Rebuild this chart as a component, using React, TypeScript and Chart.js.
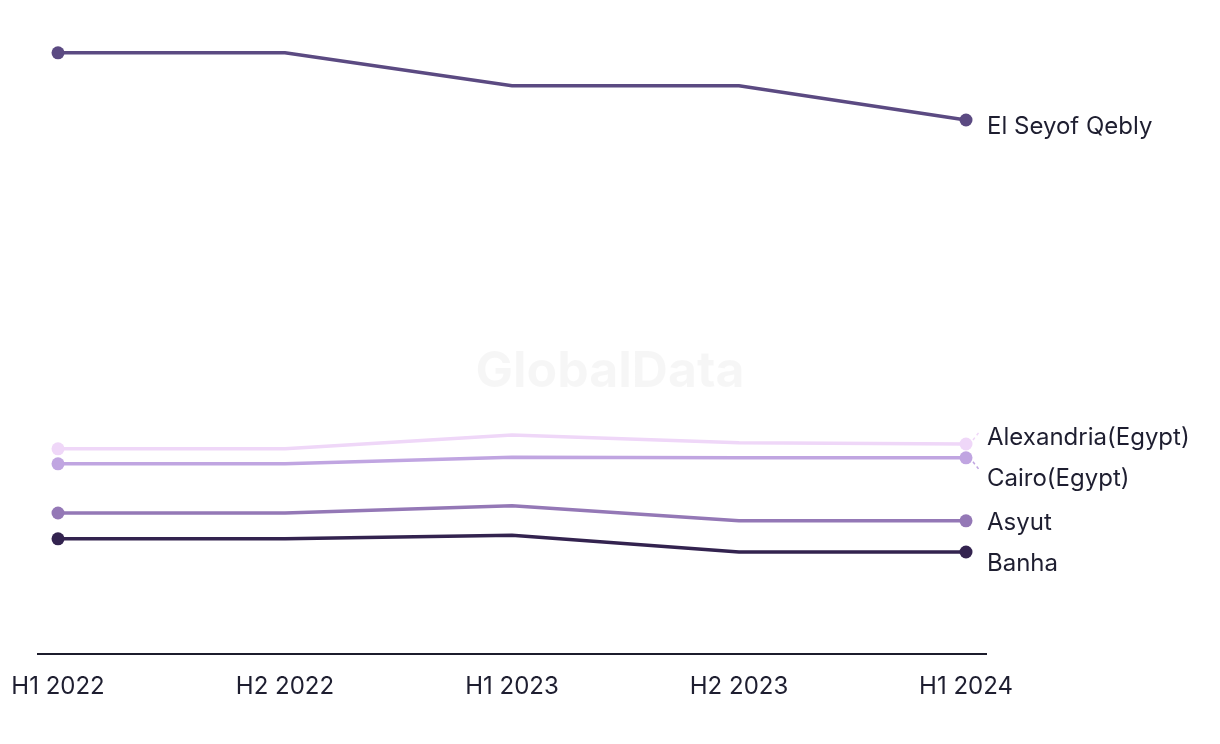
import React, { useEffect, useRef } from "react";
import { Chart, registerables } from "chart.js";

Chart.register(...registerables);

const categories = ["H1 2022", "H2 2022", "H1 2023", "H2 2023", "H1 2024"];
const seriesNames = ["El Seyof Qebly", "Alexandria(Egypt)", "Cairo(Egypt)", "Asyut", "Banha"];
const elSeyofQebly = [100.2, 100.2, 94.7, 94.7, 89.0];
const alexandria = [34.2, 34.2, 36.5, 35.2, 35.0];
const cairo = [31.7, 31.7, 32.8, 32.7, 32.7];
const asyut = [23.5, 23.5, 24.7, 22.2, 22.2];
const banha = [19.2, 19.2, 19.8, 17.0, 17.0];
const seriesColors = ["#5b4a82", "#efd7f8", "#c0a5e1", "#9478b6", "#33234f"];

const FONT = "Inter, 'Noto Sans', sans-serif";
const TEXT_COLOR = "#1e1e30";

const labelPlugin = {
  id: "endLabels",
  beforeDatasetsDraw(chart: any) {
    const { ctx } = chart;
    ctx.save();
    ctx.font = `bold 50px ${FONT}`;
    ctx.fillStyle = "rgba(0,0,0,0.035)";
    ctx.textAlign = "center";
    ctx.textBaseline = "middle";
    ctx.fillText("GlobalData", 610, 372);
    ctx.restore();
  },
  afterDatasetsDraw(chart: any) {
    const { ctx } = chart;
    const items = chart.data.datasets.map((ds: any, i: number) => {
      const meta = chart.getDatasetMeta(i);
      const pt = meta.data[meta.data.length - 1];
      return { i, x: pt.x, py: pt.y, y: pt.y + 7, label: ds.label, color: ds.borderColor };
    });
    items.sort((a: any, b: any) => a.y - b.y);
    const gap = 41;
    let clusters = items.map((it: any) => ({ members: [it], center: it.y }));
    let changed = true;
    while (changed) {
      changed = false;
      for (let k = 0; k < clusters.length - 1; k++) {
        const a = clusters[k];
        const b = clusters[k + 1];
        const aBottom = a.center + ((a.members.length - 1) * gap) / 2;
        const bTop = b.center - ((b.members.length - 1) * gap) / 2;
        if (bTop - aBottom < gap) {
          const members = [...a.members, ...b.members];
          const center = members.reduce((s: number, m: any) => s + m.y, 0) / members.length;
          clusters.splice(k, 2, { members, center });
          changed = true;
          break;
        }
      }
    }
    clusters.forEach((c: any) => {
      const n = c.members.length;
      c.members.forEach((m: any, j: number) => {
        m.ly = c.center + (j - (n - 1) / 2) * gap;
      });
    });
    ctx.save();
    items.forEach((it: any) => {
      const moved = it.ly - it.y;
      if (Math.abs(moved) > 9) {
        const dir = Math.sign(it.ly - it.py);
        ctx.beginPath();
        ctx.setLineDash([3, 3]);
        ctx.lineWidth = 1.5;
        ctx.strokeStyle = it.color;
        ctx.moveTo(it.x + 7, it.py + dir * 4);
        ctx.lineTo(it.x + 14, it.py + dir * 13);
        ctx.stroke();
        ctx.setLineDash([]);
      }
      ctx.font = `24px ${FONT}`;
      ctx.fillStyle = TEXT_COLOR;
      ctx.textAlign = "left";
      ctx.textBaseline = "middle";
      ctx.fillText(it.label, it.x + 21, it.ly);
    });
    ctx.restore();
  },
};

export default function App() {
  const canvasRef = useRef<HTMLCanvasElement | null>(null);

  useEffect(() => {
    const allSeries = [elSeyofQebly, alexandria, cairo, asyut, banha];
    const last = categories.length - 1;
    const chart = new Chart(canvasRef.current as HTMLCanvasElement, {
      type: "line",
      data: {
        datasets: allSeries.map((vals, i) => ({
          label: seriesNames[i],
          data: vals.map((v, j) => ({ x: j, y: v })),
          borderColor: seriesColors[i],
          backgroundColor: seriesColors[i],
          borderWidth: 3.5,
          pointRadius: vals.map((_, j) => (j === 0 || j === last ? 6.5 : 0)),
          pointHoverRadius: 0,
          pointBorderWidth: 0,
          tension: 0,
          clip: false as any,
        })),
      },
      options: {
        animation: false,
        responsive: false,
        events: [],
        layout: { padding: { left: 38, right: 234, top: 24, bottom: 0 } },
        plugins: { legend: { display: false }, tooltip: { enabled: false } },
        scales: {
          x: {
            type: "linear",
            min: -20 / 227,
            max: last + 20 / 227,
            afterBuildTicks: (s: any) => {
              s.ticks = categories.map((_, i) => ({ value: i }));
            },
            afterFit: (s: any) => {
              s.height = 90;
              s.paddingLeft = 0;
              s.paddingRight = 0;
            },
            grid: { display: false, drawTicks: false },
            border: { display: true, color: "#1c1c2c", width: 2 },
            ticks: {
              autoSkip: false,
              maxRotation: 0,
              padding: 18,
              color: TEXT_COLOR,
              font: { family: FONT, size: 24 },
              callback: (v: any) => categories[v as number] ?? "",
            },
          },
          y: {
            display: false,
            min: 0,
            max: 105,
          },
        },
      },
      plugins: [labelPlugin],
    });
    return () => chart.destroy();
  }, []);

  return (
    <div style={{ position: "absolute", left: 0, top: 0, width: 1220, height: 744, background: "#fff" }}>
      <canvas ref={canvasRef} width={1220} height={744} style={{ width: 1220, height: 744, display: "block" }} />
    </div>
  );
}
